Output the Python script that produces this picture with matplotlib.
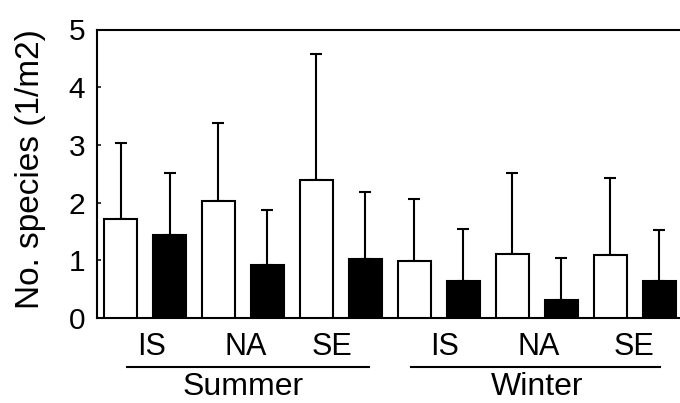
import matplotlib
matplotlib.use("Agg")
import matplotlib.pyplot as plt
import matplotlib.transforms as mtransforms
import numpy as np

plt.rcParams['font.family'] = ['Liberation Sans', 'DejaVu Sans']

# ---- data ----
seasons = ['Summer', 'Winter']
sites = ['IS', 'NA', 'SE', 'IS', 'NA', 'SE']
open_means = [1.71, 2.03, 2.39, 0.98, 1.11, 1.09]
open_sd = [1.33, 1.35, 2.18, 1.09, 1.40, 1.33]
filled_means = [1.44, 0.91, 1.02, 0.64, 0.32, 0.64]
filled_sd = [1.07, 0.96, 1.16, 0.90, 0.72, 0.89]
yticks = [0, 1, 2, 3, 4, 5]
ylabel = 'No. species (1/m2)'

# ---- layout ----
fig = plt.figure(figsize=(6.8, 4.03), dpi=100)
ax = fig.add_axes([97/680, 1 - 318/403, 1 - 97/680, (318 - 29.5)/403])

n = len(open_means)
x_open = np.arange(n) * 2.0
x_filled = x_open + 1.0
width = 0.67
lw = 1.5

ax.bar(x_open, open_means, width=width, color='white', edgecolor='black',
       linewidth=lw, zorder=3)
ax.bar(x_filled, filled_means, width=width, color='black', edgecolor='black',
       linewidth=lw, zorder=3)
ax.errorbar(x_open, open_means, yerr=[np.zeros(n), open_sd], fmt='none',
            ecolor='black', elinewidth=lw, capsize=4, capthick=lw, zorder=2)
ax.errorbar(x_filled, filled_means, yerr=[np.zeros(n), filled_sd], fmt='none',
            ecolor='black', elinewidth=lw, capsize=4, capthick=lw, zorder=2)

ax.set_xlim(-0.48, 11.42)
ax.set_ylim(0, 5)
ax.set_yticks(yticks)
ax.set_yticklabels([str(t) for t in yticks], fontsize=21.5)
ax.set_xticks([])
ax.tick_params(axis='y', direction='in', length=3, width=1.1, pad=8.5)
ax.spines['right'].set_visible(False)
for s in ['left', 'top', 'bottom']:
    ax.spines[s].set_linewidth(lw)

ax.set_ylabel(ylabel, fontsize=24)
ax.yaxis.set_label_coords(-0.087, 0.516)

trans = mtransforms.blended_transform_factory(ax.transData, ax.transAxes)
site_label_x = [0.64, 2.56, 4.31, 6.62, 8.54, 10.48]
for xl, lab in zip(site_label_x, sites):
    ax.text(xl, -0.10, lab, transform=trans, ha='center', va='center',
            fontsize=22)

line_spans = [(0.13, 5.08), (5.93, 11.02)]
group_x = [2.5, 8.5]
for (x0, x1), gx, name in zip(line_spans, group_x, seasons):
    ax.plot([x0, x1], [-0.169, -0.169], color='black', lw=lw,
            transform=trans, clip_on=False)
    ax.text(gx, -0.24, name, transform=trans, ha='center', va='center',
            fontsize=23)

fig.savefig('out.png', dpi=100)
